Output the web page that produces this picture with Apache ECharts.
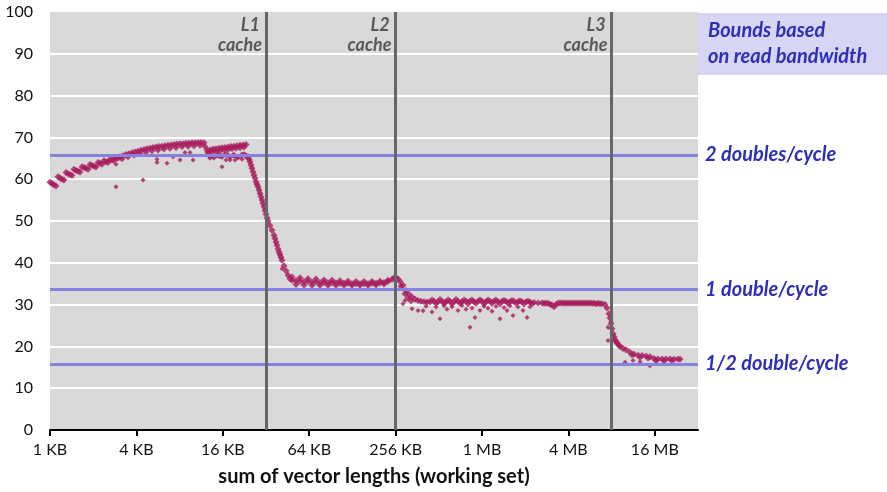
<!DOCTYPE html>
<html><head><meta charset="utf-8">
<script src="https://cdn.jsdelivr.net/npm/echarts@6/dist/echarts.min.js"></script>
<style>html,body{margin:0;padding:0;background:#fff}#c{width:887px;height:492px}</style>
</head><body><div id="c"></div>
<script>
// ---- DATA (working-set size in KB, performance value) ----
const tickKB = [1, 4, 16, 64, 256, 1024, 4096, 16384];
const tickLabels = ['1 KB', '4 KB', '16 KB', '64 KB', '256 KB', '1 MB', '4 MB', '16 MB'];
const cacheKB = [32, 256, 8192];
const cacheNames = ['L1', 'L2', 'L3'];
const boundValues = [65.8, 33.6, 15.8];
const boundLabels = ['2 doubles/cycle', '1 double/cycle', '1/2 double/cycle'];
const noteLines = ['Bounds based', 'on read bandwidth'];
const xTitle = 'sum of vector lengths (working set)';

const l1KB = [1.000,1.033,1.066,1.101,1.137,1.174,1.212,1.252,1.293,1.335,1.379,1.424,1.470,1.518,1.568,1.619,1.671,1.726,1.782,1.840,1.900,1.962,2.026,2.093,2.161,2.231,2.304,2.379,2.456,2.536,2.619,2.704,2.792,2.883,2.977,
 3.075,3.227,3.386,3.553,3.728,3.912,4.105,4.307,4.520,4.743,4.977,5.221,5.478,5.749,6.032,6.330,6.642,6.969,7.313,7.674,8.052,8.449,8.866,9.303,9.762,10.24,10.75,11.28,11.83,
 3.175,3.497,3.850,4.239,4.667,5.139,5.657,6.229,6.859,7.551,8.315,9.155,10.08,11.10,
 12.02,12.42,13.02,13.67,14.34,15.05,15.79,16.57,17.39,18.25,19.15,20.10,21.09,22.13,23.22,
 12.62,13.45,14.34,15.29,16.31,17.39,18.55,19.78,21.09,22.49,
 13.02,13.89,14.81,15.79,16.84,17.96,19.15,20.42,21.78,23.22,
 23.98,24.37,24.76,25.16,25.57,25.98,26.40,26.83,27.26,27.70,28.15,28.61,29.07,29.54,30.02,30.50,31.00,31.50,32.01];
const l1Perf = [59.3,59.0,58.7,58.4,60.6,60.3,60.0,59.8,61.6,61.3,61.1,60.9,62.4,62.1,61.9,61.7,63.0,62.8,62.6,62.4,63.5,63.3,63.1,62.9,64.0,63.8,63.6,64.4,64.2,64.0,64.8,64.6,64.5,65.2,65.0,
 65.4,65.6,65.9,66.1,66.3,66.5,66.7,66.9,67.1,67.3,67.4,67.6,67.7,67.8,67.9,68.0,68.1,68.2,68.3,68.4,68.5,68.5,68.6,68.6,68.7,68.7,68.8,68.8,68.7,
 64.9,65.4,65.8,66.1,66.5,66.8,67.0,67.2,67.4,67.6,67.8,67.9,68.0,68.1,
 67.8,66.9,67.0,67.2,67.3,67.4,67.5,67.6,67.7,67.8,67.9,68.0,68.1,68.2,68.3,
 66.4,66.5,66.7,66.8,67.0,67.1,67.3,67.4,67.5,67.7,
 65.6,65.3,65.8,65.5,65.9,65.4,65.7,65.3,65.8,65.6,
 65.4,64.8,64.2,63.4,62.6,61.8,61.0,60.2,59.4,58.8,58.2,57.4,56.6,55.8,55.0,54.2,53.4,52.5,51.6];

const l2KB = [32.52,33.05,34.13,35.24,36.39,36.98,37.58,38.18,38.80,39.43,40.07,40.72,41.37,42.72,44.11,45.55,47.04,
 48.57,51.79,55.22,58.88,62.78,66.94,71.38,76.11,81.16,86.54,92.27,98.39,104.9,111.9,119.3,127.2,135.6,144.6,154.2,164.4,175.3,186.9,199.3,212.5,226.6,241.6,249.5,257.6,266.0,274.7,
 48.57,55.22,62.78,71.38,81.16,92.27,104.9,119.3,135.6,154.2,175.3,199.3,226.6,
 51.79,58.88,66.94,76.11,86.54,98.39,111.9,127.2,144.6,164.4,186.9,212.5];
const l2Perf = [50.8,50.0,48.9,47.8,46.6,45.8,45.0,44.2,43.3,42.6,42.0,41.3,40.6,39.3,38.1,37.0,36.2,
 35.8,35.7,35.6,35.5,35.5,35.4,35.4,35.3,35.3,35.2,35.2,35.2,35.1,35.1,35.1,35.0,35.0,35.0,35.0,35.0,35.1,35.1,35.2,35.3,35.5,36.0,36.4,36.5,36.1,35.5,
 36.6,36.4,36.2,36.1,35.9,35.8,35.7,35.6,35.5,35.5,35.5,35.6,35.8,
 34.8,34.7,34.6,34.6,34.6,34.6,34.6,34.6,34.6,34.6,34.7,34.9];

const l3KB = [279.1,288.2,297.6,302.5,312.4,317.4,327.7,333.0,349.4,366.7,384.8,403.7,423.6,
 444.5,474.0,505.4,538.9,574.6,612.7,653.3,696.6,742.8,792.0,844.5,900.5,960.2,1024,1092,1164,1241,1324,1411,1505,1605,1711,1825,1946,2075,2212,2359,2515,
 459.0,521.9,593.3,674.6,767.0,872.0,991.5,1128,1281,1457,1657,1885,2142,
 489.5,556.5,632.7,719.3,817.8,929.9,1057,1202,1367,1554,1767,2009,2284,
 2682,2770,2860,2953,3049,3149,3251,3357,3467,3580,3697,3818,3942,4071,4203,4340,4482,4628,4779,4935,5095,5261,5433,5610,5793,5982,6177,6378,6587,6800,7023];
const l3Perf = [34.4,34.6,32.6,33.4,31.6,32.5,30.9,31.8,31.3,31.0,30.8,30.7,30.6,
 30.6,30.8,30.7,30.8,30.7,30.8,30.7,30.8,30.7,30.8,30.8,30.7,30.8,30.8,30.7,30.8,30.8,30.7,30.8,30.8,30.7,30.8,30.7,30.7,30.7,30.6,30.5,30.4,
 31.1,31.2,31.1,31.2,31.1,31.1,31.1,31.1,31.1,31.0,31.0,30.9,30.8,
 30.3,30.3,30.2,30.3,30.2,30.3,30.2,30.3,30.2,30.3,30.3,30.2,30.2,
 30.4,30.3,30.3,30.3,30.1,29.9,29.5,30.0,30.3,30.4,30.4,30.3,30.4,30.3,30.4,30.3,30.4,30.3,30.4,30.3,30.4,30.3,30.4,30.3,30.4,30.3,30.3,30.2,30.3,30.2,30.2];

const memKB = [7367,7607,7855,7982,8112,8243,8376,8512,8650,8790,8932,9226,9375,9838,10320,11005,11364,11740,12520,12928,13350,14240,14704,15170,16180,16700,17250,18400,19000,19620,20920,21600,22310,23790,24580];
const memPerf = [30.0,29.2,27.8,26.8,25.5,24.2,23.0,22.3,21.6,21.2,20.8,20.3,20.0,19.5,19.2,18.6,18.0,18.1,17.9,17.4,17.8,17.7,17.2,17.5,17.1,16.7,17.0,17.0,16.6,17.0,17.0,16.7,16.9,17.0,16.9];

const outlierKB = [2.883,2.883,4.447,5.567,5.567,6.536,7.196,8.052,8.725,9.453,9.920,12.42,13.02,13.67,14.57,15.29,15.79,16.84,17.39,17.96,18.85,19.46,20.42,21.78,22.49,22.85,41.37,
 288.2,297.6,333.0,366.7,397.3,416.9,459.0,489.5,521.9,556.5,583.9,632.7,696.6,742.8,792.0,844.5,872.0,915.1,991.5,1057,1128,1202,1281,1367,1457,1529,1605,1684,1825,1977,2109,2212,
 7730,7730,8112,10156,11548,12928,15170,16700,19000];
const outlierPerf = [63.6,58.2,59.8,64.8,64.0,63.8,65.4,64.6,66.4,66.4,64.6,65.8,65.0,65.3,65.6,65.4,63.0,64.6,65.7,64.6,65.8,64.6,65.3,64.8,66.1,65.6,38.6,
 30.2,31.0,29.0,28.6,28.5,29.6,28.2,29.4,26.6,29.7,28.9,29.5,28.6,29.8,28.9,24.6,29.2,26.9,28.6,29.6,29.1,28.4,29.6,26.6,29.3,28.6,29.7,27.4,29.4,28.6,26.9,29.5,
 24.6,21.4,26.0,16.2,16.6,16.3,15.4,15.9,15.8];

// ---- build ----
const FONT = 'Lato';
const toX = kb => Math.log2(kb);
function zip(kb, v) { return kb.map((k, i) => [toX(k), v[i]]); }
const mainPoints = [].concat(zip(l1KB, l1Perf), zip(l2KB, l2Perf), zip(l3KB, l3Perf), zip(memKB, memPerf));
const outPoints = zip(outlierKB, outlierPerf);
const tickX = tickKB.map(toX);
const labelMap = {}; tickX.forEach((x, i) => labelMap[x] = tickLabels[i]);

const chart = echarts.init(document.getElementById('c'), null, { renderer: 'canvas' });
const boundStyle = { color: '#8383e2', width: 3, type: 'solid' };
const cacheStyle = { color: '#666666', width: 3, type: 'solid' };
const DOT = '#a81a5c';

chart.setOption({
  animation: false,
  backgroundColor: '#ffffff',
  grid: { left: 50, right: 189, top: 12, bottom: 62, show: true, backgroundColor: '#d9d9d9', borderWidth: 0 },
  xAxis: {
    type: 'value', min: 0, max: toX(32768), interval: 2,
    axisLine: { show: true, onZero: false, lineStyle: { color: '#000', width: 2 } },
    axisTick: { show: true, customValues: tickX, length: 6, lineStyle: { color: '#000', width: 2 } },
    axisLabel: { customValues: tickX, formatter: v => labelMap[v] || '', color: '#111', fontFamily: FONT, fontSize: 16, margin: 12 },
    splitLine: { show: false },
    name: xTitle, nameLocation: 'middle', nameGap: 37,
    nameTextStyle: { fontFamily: FONT, fontWeight: 'bold', fontSize: 20, color: '#111' }
  },
  yAxis: {
    type: 'value', min: 0, max: 100, interval: 10,
    axisLine: { show: false }, axisTick: { show: false },
    axisLabel: { color: '#111', fontFamily: FONT, fontSize: 16, margin: 17 },
    splitLine: { show: true, showMaxLine: false, lineStyle: { color: '#ffffff', width: 2 } }
  },
  series: [{
    type: 'scatter', data: mainPoints,
    symbol: 'diamond', symbolSize: 7,
    itemStyle: { color: DOT }, silent: true,
    markLine: {
      silent: true, symbol: ['none', 'none'], z: 5,
      data: boundValues.map((v, i) => ({
        yAxis: v, lineStyle: boundStyle,
        label: { show: true, position: 'end', distance: 7, formatter: boundLabels[i],
          color: '#2e2eb6', fontFamily: FONT, fontSize: 20, fontWeight: 'bold', fontStyle: 'italic' }
      })).concat(cacheKB.map(k => ({
        xAxis: toX(k), lineStyle: cacheStyle, label: { show: false }
      })))
    }
  }, {
    type: 'scatter', data: outPoints,
    symbol: 'diamond', symbolSize: 5,
    itemStyle: { color: DOT }, silent: true
  }]
});

// annotations positioned through the chart's own scales
const graphics = [];
cacheKB.forEach((k, i) => {
  const p = chart.convertToPixel({ gridIndex: 0 }, [toX(k), 100]);
  graphics.push({ type: 'text', x: p[0] - 6, y: p[1] + 13, z: 10, style: { text: cacheNames[i], textAlign: 'right', textVerticalAlign: 'middle',
    fill: '#595959', font: 'italic bold 18px ' + FONT } });
  graphics.push({ type: 'text', x: p[0] - 4, y: p[1] + 33, z: 10, style: { text: 'cache', textAlign: 'right', textVerticalAlign: 'middle',
    fill: '#595959', font: 'italic bold 18px ' + FONT } });
});
const tr = chart.convertToPixel({ gridIndex: 0 }, [toX(32768), 100]);
graphics.push({ type: 'rect', shape: { x: tr[0], y: tr[1] + 1, width: 887 - tr[0], height: 62 }, style: { fill: '#d6d6f4' }, z: 1 });
noteLines.forEach((t, i) => {
  graphics.push({ type: 'text', x: tr[0] + 10, y: tr[1] + 19 + i * 26, z: 2, style: { text: t, textVerticalAlign: 'middle',
    fill: '#2e2eb6', font: 'italic bold 20px ' + FONT } });
});
chart.setOption({ graphic: graphics });
</script>
</body></html>
